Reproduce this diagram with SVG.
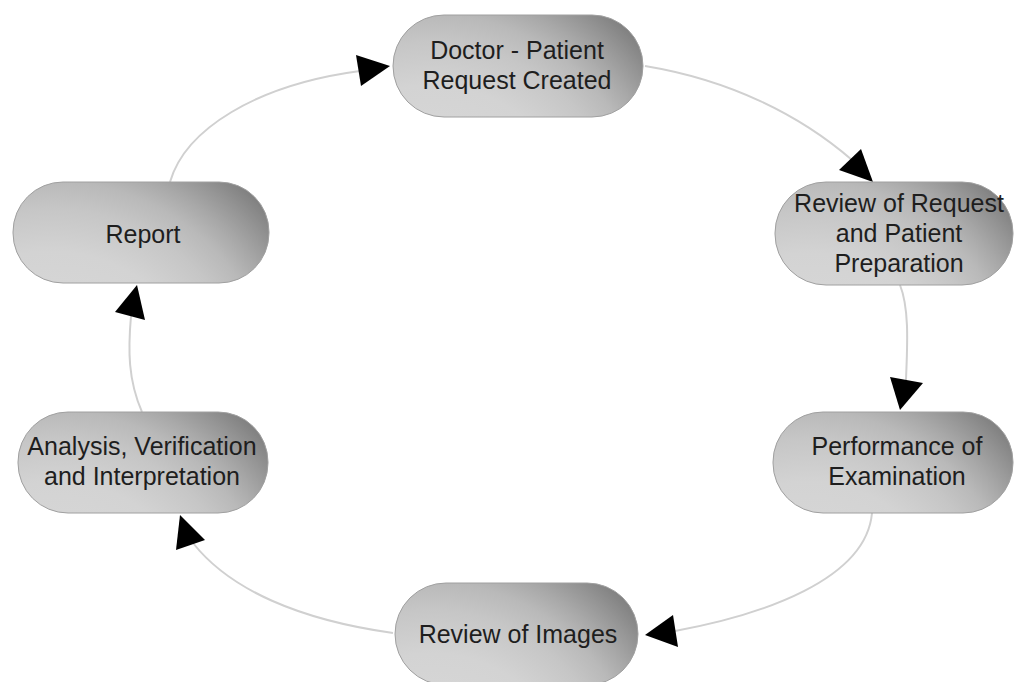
<svg xmlns="http://www.w3.org/2000/svg" width="1014" height="682" viewBox="0 0 1014 682">
<defs>
<radialGradient id="g" cx="0.15" cy="2.2" r="1.21" fx="0.15" fy="2.2" gradientTransform="translate(0.15,2.2) scale(1,2.5) translate(-0.15,-2.2)">
<stop offset="0" stop-color="#dddddd"/>
<stop offset="0.5" stop-color="#d3d3d3"/>
<stop offset="0.64" stop-color="#c6c6c6"/>
<stop offset="0.73" stop-color="#b9b9b9"/>
<stop offset="0.8" stop-color="#a8a8a8"/>
<stop offset="0.87" stop-color="#959595"/>
<stop offset="0.94" stop-color="#818181"/>
<stop offset="1" stop-color="#6c6c6c"/>
</radialGradient>
</defs>
<style>
.node{fill:url(#g);stroke:#a0a0a0;stroke-width:1}
.lbl{font-family:"Liberation Sans",Arial,sans-serif;font-size:25px;fill:#1e1e1e;text-anchor:middle}
.edge{fill:none;stroke:#d0d0d0;stroke-width:2}
.head{fill:#000}
</style>
<rect width="1014" height="682" fill="#fff"/>
<g id="connectors">
<path class="edge" d="M170,182 C185,130 255,85 360,71"/>
<polygon class="head" points="390,66 356,55 361,86"/>
<path class="edge" d="M645,66 C730,80 800,115 852,160"/>
<polygon class="head" points="873,182 839,170 861,149"/>
<path class="edge" d="M900,285 C910,310 907,350 906,380"/>
<polygon class="head" points="900,410 890,377 923,383"/>
<path class="edge" d="M872,513 C866,580 762,615 675,631"/>
<polygon class="head" points="645,635 673,615 678,647"/>
<path class="edge" d="M393,633 C300,620 230,590 193,543"/>
<polygon class="head" points="180,515 176,550 205,540"/>
<path class="edge" d="M142,412 C128,380 128,350 131,316"/>
<polygon class="head" points="137,285 115,312 145,320"/>
</g>
<g id="node-request">
<rect class="node" x="393" y="15" width="250" height="102" rx="51"/>
<text class="lbl" x="517" y="59">Doctor - Patient</text>
<text class="lbl" x="517" y="89">Request Created</text>
</g>
<g id="node-review-request">
<rect class="node" x="775" y="182" width="238" height="103" rx="51"/>
<text class="lbl" x="899" y="212">Review of Request</text>
<text class="lbl" x="899" y="242">and Patient</text>
<text class="lbl" x="899" y="272">Preparation</text>
</g>
<g id="node-performance">
<rect class="node" x="773" y="412" width="240" height="101" rx="50"/>
<text class="lbl" x="897" y="455">Performance of</text>
<text class="lbl" x="897" y="485">Examination</text>
</g>
<g id="node-review-images">
<rect class="node" x="395" y="583" width="243" height="102" rx="51"/>
<text class="lbl" x="518" y="643">Review of Images</text>
</g>
<g id="node-analysis">
<rect class="node" x="18" y="412" width="250" height="101" rx="50"/>
<text class="lbl" x="142" y="455">Analysis, Verification</text>
<text class="lbl" x="142" y="485">and Interpretation</text>
</g>
<g id="node-report">
<rect class="node" x="13" y="182" width="256" height="101" rx="50"/>
<text class="lbl" x="143" y="243">Report</text>
</g>
</svg>
